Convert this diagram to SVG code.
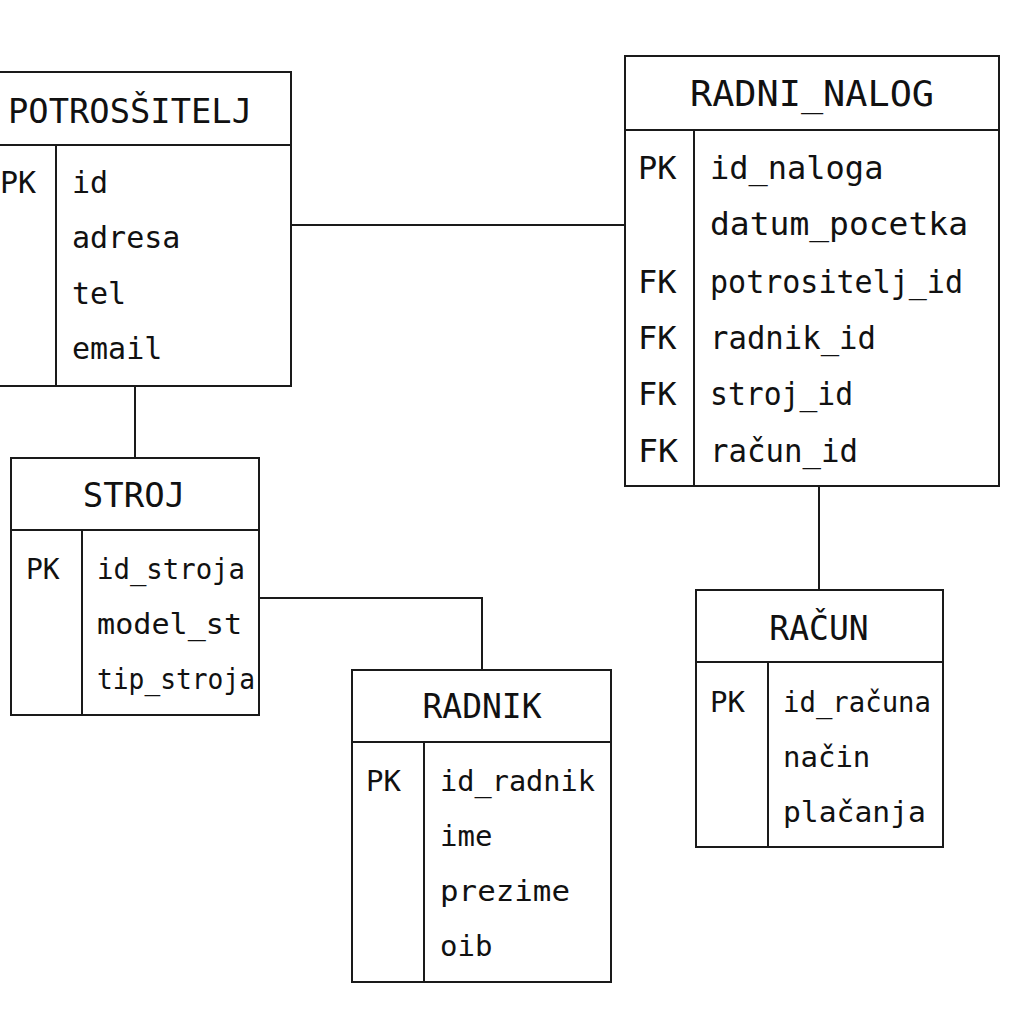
<svg xmlns="http://www.w3.org/2000/svg" width="1024" height="1024" viewBox="0 0 1024 1024">
<style>
.box{fill:#fff;stroke:#1a1a1a;stroke-width:2}
.ln{fill:none;stroke:#1a1a1a;stroke-width:2}
text{font-family:"DejaVu Sans Mono","Liberation Mono",monospace;fill:#111}
.t{text-anchor:middle}
</style>
<rect width="1024" height="1024" fill="#fff"/>
<g id="connectors">
<path class="ln" d="M291 225H625"/>
<path class="ln" d="M135 386V458"/>
<path class="ln" d="M819 486V590"/>
<path class="ln" d="M259 598H482V670"/>
</g>
<g id="potrositelj">
<rect class="box" x="-2" y="72" width="293" height="314"/>
<path class="ln" d="M-2 145H291M56 145V386"/>
<text x="8" y="123" font-size="34" textLength="244" lengthAdjust="spacingAndGlyphs">POTROSŠITELJ</text>
<g font-size="30">
<text x="0" y="193">PK</text>
<text x="72" y="193">id</text>
<text x="72" y="248">adresa</text>
<text x="72" y="304">tel</text>
<text x="72" y="359">email</text>
</g>
</g>
<g id="radni_nalog">
<rect class="box" x="625" y="56" width="374" height="430"/>
<path class="ln" d="M625 130H999M694 130V486"/>
<text class="t" x="812" y="106" font-size="35" textLength="244" lengthAdjust="spacingAndGlyphs">RADNI_NALOG</text>
<g font-size="32">
<text x="638" y="179">PK</text>
<text x="710" y="179">id_naloga</text>
<text x="710" y="235" textLength="258" lengthAdjust="spacingAndGlyphs">datum_pocetka</text>
<text x="638" y="293">FK</text>
<text x="710" y="293" textLength="253" lengthAdjust="spacingAndGlyphs">potrositelj_id</text>
<text x="638" y="349">FK</text>
<text x="710" y="349" textLength="166" lengthAdjust="spacingAndGlyphs">radnik_id</text>
<text x="638" y="405">FK</text>
<text x="710" y="405" textLength="143" lengthAdjust="spacingAndGlyphs">stroj_id</text>
<text x="638" y="462" textLength="40" lengthAdjust="spacingAndGlyphs">FK</text>
<text x="710" y="462" textLength="148" lengthAdjust="spacingAndGlyphs">račun_id</text>
</g>
</g>
<g id="stroj">
<rect class="box" x="11" y="458" width="248" height="257"/>
<path class="ln" d="M11 530H259M82 530V715"/>
<text class="t" x="134" y="507" font-size="34">STROJ</text>
<g font-size="28">
<text x="26" y="579">PK</text>
<text x="97" y="579" textLength="148" lengthAdjust="spacingAndGlyphs">id_stroja</text>
<text x="97" y="634" textLength="145" lengthAdjust="spacingAndGlyphs">model_st</text>
<text x="97" y="689" textLength="158" lengthAdjust="spacingAndGlyphs">tip_stroja</text>
</g>
</g>
<g id="radnik">
<rect class="box" x="352" y="670" width="259" height="312"/>
<path class="ln" d="M352 742H611M424 742V982"/>
<text class="t" x="482" y="718" font-size="33">RADNIK</text>
<g font-size="29">
<text x="366" y="791">PK</text>
<text x="440" y="791" textLength="155" lengthAdjust="spacingAndGlyphs">id_radnik</text>
<text x="440" y="846">ime</text>
<text x="440" y="901" textLength="130" lengthAdjust="spacingAndGlyphs">prezime</text>
<text x="440" y="956">oib</text>
</g>
</g>
<g id="racun">
<rect class="box" x="696" y="590" width="247" height="257"/>
<path class="ln" d="M696 662H943M768 662V847"/>
<text class="t" x="819" y="640" font-size="33">RAČUN</text>
<g font-size="29">
<text x="710" y="712">PK</text>
<text x="783" y="712" textLength="148" lengthAdjust="spacingAndGlyphs">id_računa</text>
<text x="783" y="767">način</text>
<text x="783" y="822" textLength="143" lengthAdjust="spacingAndGlyphs">plačanja</text>
</g>
</g>
</svg>
